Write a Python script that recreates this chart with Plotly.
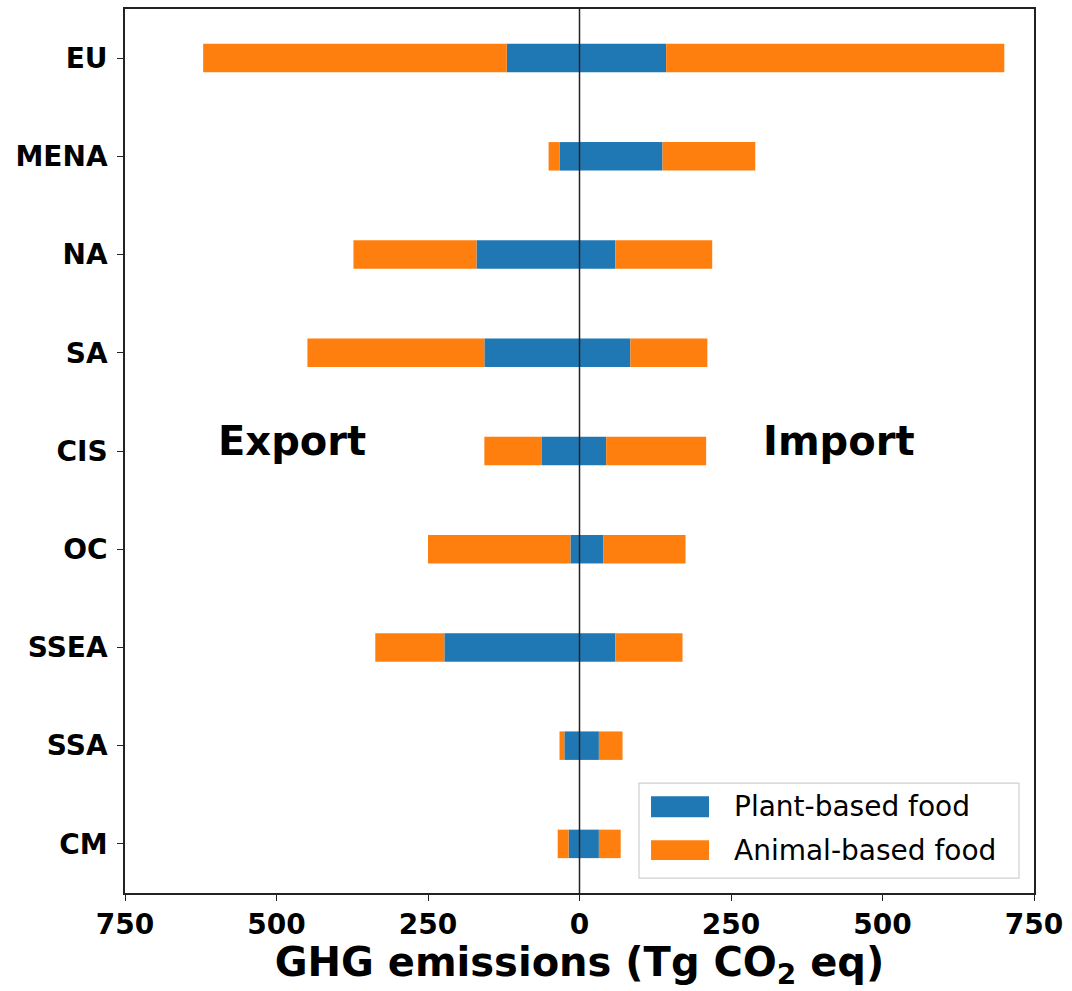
import plotly.graph_objects as go

# Regions and emissions embodied in traded food (Tg CO2 eq)
regions = ["EU", "MENA", "NA", "SA", "CIS", "OC", "SSEA", "SSA", "CM"]
export_plant = [120, 33, 170, 157, 62, 15, 223, 25, 18]
export_animal = [501, 18, 203, 292, 95, 235, 114, 8, 18]
import_plant = [143, 137, 59, 84, 44, 39, 59, 32, 32]
import_animal = [558, 153, 160, 127, 165, 136, 111, 39, 36]

tick_vals = [-750, -500, -250, 0, 250, 500, 750]
tick_text = ["750", "500", "250", "0", "250", "500", "750"]

BLUE = "#1f77b4"
ORANGE = "#ff7f0e"
FONT = "DejaVu Sans"
BAR_W = 0.29

fig = go.Figure()
# exports are drawn to the left of zero, imports to the right
fig.add_trace(go.Bar(y=regions, x=[-v for v in export_plant], orientation="h",
                     marker=dict(color=BLUE, line=dict(width=0)), width=BAR_W,
                     name="Plant-based food", showlegend=False))
fig.add_trace(go.Bar(y=regions, x=import_plant, orientation="h",
                     marker=dict(color=BLUE, line=dict(width=0)), width=BAR_W,
                     name="Plant-based food", showlegend=False))
fig.add_trace(go.Bar(y=regions, x=[-v for v in export_animal], orientation="h",
                     marker=dict(color=ORANGE, line=dict(width=0)), width=BAR_W,
                     name="Animal-based food", showlegend=False))
fig.add_trace(go.Bar(y=regions, x=import_animal, orientation="h",
                     marker=dict(color=ORANGE, line=dict(width=0)), width=BAR_W,
                     name="Animal-based food", showlegend=False))

fig.update_layout(
    width=1072, height=991,
    margin=dict(l=125, r=38, t=7, b=98),
    barmode="relative",
    plot_bgcolor="white", paper_bgcolor="white",
    font=dict(family=FONT, color="black"),
    xaxis=dict(
        range=[-750, 750], tickvals=tick_vals, ticktext=tick_text,
        showgrid=False, zeroline=False,
        showline=True, linecolor="#222", linewidth=1.6, mirror=True,
        ticks="outside", ticklen=6, tickwidth=1.4, tickcolor="#222",
        tickfont=dict(family=FONT, size=28, weight="bold"),
        title=dict(text="GHG emissions (Tg CO<sub>2</sub> eq)",
                   font=dict(family=FONT, size=40, weight="bold"), standoff=14),
    ),
    yaxis=dict(
        categoryorder="array", categoryarray=regions,
        range=[8.5, -0.5],
        showgrid=False, zeroline=False,
        showline=True, linecolor="#222", linewidth=1.6, mirror=True,
        ticks="outside", ticklen=6, tickwidth=1.4, tickcolor="#222",
        tickfont=dict(family=FONT, size=28, weight="bold"),
        ticklabelstandoff=4,
    ),
)

# vertical line at zero, drawn over the bars
fig.add_shape(type="line", xref="x", yref="paper", x0=0, x1=0, y0=0, y1=1,
              line=dict(color="#222", width=1.5), layer="above")

# side labels
for txt, xp in [("Export", 0.1837), ("Import", 0.786)]:
    fig.add_annotation(text=txt, xref="paper", yref="paper", x=xp, y=0.511,
                       showarrow=False, xanchor="center", yanchor="middle",
                       font=dict(family=FONT, size=40, weight="bold", color="black"))

# legend box
fig.add_shape(type="rect", xref="paper", yref="paper",
              x0=0.5655, x1=0.9835, y0=0.0169, y1=0.1242,
              line=dict(color="#d0d0d0", width=1.2), fillcolor="rgba(255,255,255,0.85)",
              layer="above")
legend_items = [("Plant-based food", BLUE, 0.0858, 0.1095, 0.0976),
                ("Animal-based food", ORANGE, 0.0372, 0.0598, 0.0485)]
for label, col, y0, y1, yt in legend_items:
    fig.add_shape(type="rect", xref="paper", yref="paper",
                  x0=0.5787, x1=0.6425, y0=y0, y1=y1,
                  line=dict(width=0), fillcolor=col, layer="above")
    fig.add_annotation(text=label, xref="paper", yref="paper", x=0.668, y=yt,
                       showarrow=False, xanchor="left", yanchor="middle",
                       font=dict(family=FONT, size=28, color="black"))

fig.write_html("out.html")
